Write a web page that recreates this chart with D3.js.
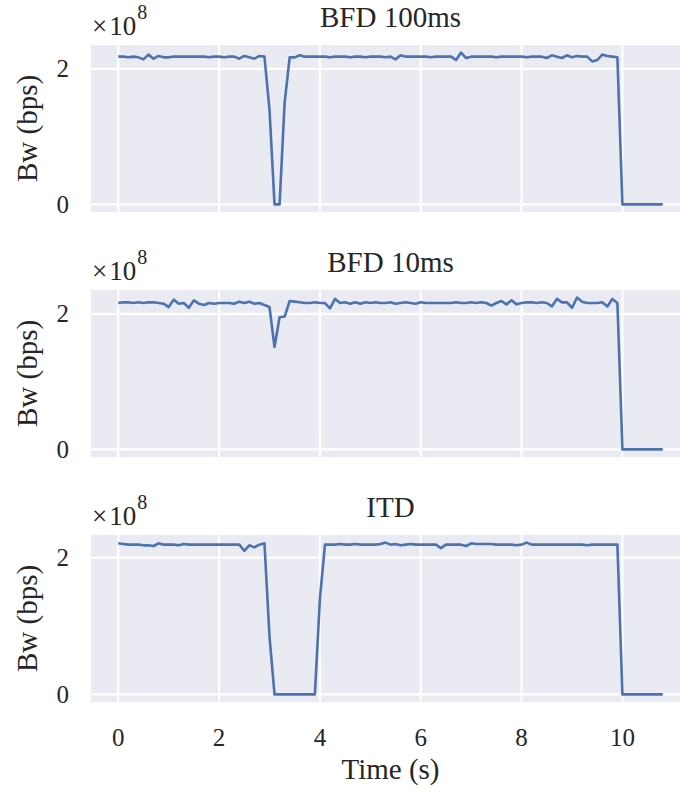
<!DOCTYPE html>
<html>
<head>
<meta charset="utf-8">
<script src="https://cdn.jsdelivr.net/npm/d3@7"></script>
<style>
  body { margin: 0; background: #fff; }
  svg { display: block; }
  text { font-family: "Liberation Serif", "DejaVu Serif", serif; fill: #262626; }
</style>
</head>
<body>
<div id="chart"></div>
<script>
// time samples (s)
var times = [0, 0.1, 0.2, 0.3, 0.4, 0.5, 0.6, 0.7, 0.8, 0.9,
  1, 1.1, 1.2, 1.3, 1.4, 1.5, 1.6, 1.7, 1.8, 1.9,
  2, 2.1, 2.2, 2.3, 2.4, 2.5, 2.6, 2.7, 2.8, 2.9,
  3, 3.1, 3.2, 3.3, 3.4, 3.5, 3.6, 3.7, 3.8, 3.9,
  4, 4.1, 4.2, 4.3, 4.4, 4.5, 4.6, 4.7, 4.8, 4.9,
  5, 5.1, 5.2, 5.3, 5.4, 5.5, 5.6, 5.7, 5.8, 5.9,
  6, 6.1, 6.2, 6.3, 6.4, 6.5, 6.6, 6.7, 6.8, 6.9,
  7, 7.1, 7.2, 7.3, 7.4, 7.5, 7.6, 7.7, 7.8, 7.9,
  8, 8.1, 8.2, 8.3, 8.4, 8.5, 8.6, 8.7, 8.8, 8.9,
  9, 9.1, 9.2, 9.3, 9.4, 9.5, 9.6, 9.7, 9.8, 9.9,
  10, 10.1, 10.2, 10.3, 10.4, 10.5, 10.6, 10.7, 10.8];

// bandwidth in units of 1e8 bps
var bfd100 = [2.18, 2.18, 2.17, 2.18, 2.17, 2.14, 2.21, 2.15, 2.19, 2.17,
  2.17, 2.18, 2.18, 2.18, 2.18, 2.18, 2.18, 2.18, 2.17, 2.18,
  2.18, 2.17, 2.18, 2.18, 2.15, 2.19, 2.17, 2.15, 2.19, 2.18,
  1.40, 0, 0, 1.50, 2.17, 2.17, 2.20, 2.18, 2.18, 2.18,
  2.18, 2.18, 2.17, 2.18, 2.18, 2.18, 2.17, 2.18, 2.18, 2.17,
  2.18, 2.18, 2.18, 2.17, 2.18, 2.14, 2.20, 2.18, 2.18, 2.18,
  2.18, 2.18, 2.17, 2.18, 2.18, 2.18, 2.18, 2.13, 2.24, 2.16,
  2.18, 2.18, 2.18, 2.18, 2.18, 2.17, 2.18, 2.18, 2.18, 2.18,
  2.18, 2.17, 2.18, 2.18, 2.18, 2.16, 2.20, 2.18, 2.16, 2.20,
  2.17, 2.19, 2.18, 2.18, 2.11, 2.13, 2.21, 2.19, 2.18, 2.17,
  0, 0, 0, 0, 0, 0, 0, 0, 0];

var bfd10 = [2.16, 2.17, 2.17, 2.16, 2.17, 2.16, 2.17, 2.17, 2.16, 2.15,
  2.10, 2.21, 2.15, 2.16, 2.09, 2.20, 2.15, 2.13, 2.16, 2.15,
  2.16, 2.16, 2.16, 2.15, 2.18, 2.16, 2.18, 2.15, 2.16, 2.13,
  2.10, 1.51, 1.95, 1.96, 2.19, 2.18, 2.17, 2.16, 2.16, 2.17,
  2.16, 2.16, 2.08, 2.22, 2.16, 2.17, 2.15, 2.17, 2.15, 2.17,
  2.16, 2.17, 2.16, 2.16, 2.17, 2.15, 2.16, 2.17, 2.16, 2.15,
  2.17, 2.16, 2.16, 2.16, 2.16, 2.16, 2.16, 2.17, 2.16, 2.16,
  2.17, 2.16, 2.17, 2.16, 2.12, 2.16, 2.19, 2.14, 2.20, 2.14,
  2.16, 2.17, 2.17, 2.16, 2.17, 2.16, 2.11, 2.22, 2.17, 2.17,
  2.09, 2.24, 2.18, 2.16, 2.16, 2.16, 2.17, 2.11, 2.22, 2.16,
  0, 0, 0, 0, 0, 0, 0, 0, 0];

var itd = [2.21, 2.20, 2.19, 2.19, 2.19, 2.18, 2.18, 2.17, 2.21, 2.19,
  2.19, 2.19, 2.18, 2.20, 2.19, 2.19, 2.19, 2.19, 2.19, 2.19,
  2.19, 2.19, 2.19, 2.19, 2.19, 2.10, 2.18, 2.15, 2.19, 2.21,
  0.85, 0, 0, 0, 0, 0, 0, 0, 0, 0,
  1.40, 2.19, 2.19, 2.19, 2.20, 2.19, 2.19, 2.20, 2.19, 2.19,
  2.19, 2.19, 2.20, 2.22, 2.19, 2.20, 2.18, 2.19, 2.20, 2.19,
  2.19, 2.19, 2.19, 2.19, 2.14, 2.19, 2.19, 2.19, 2.19, 2.17,
  2.21, 2.20, 2.20, 2.20, 2.20, 2.19, 2.19, 2.19, 2.19, 2.18,
  2.19, 2.22, 2.19, 2.19, 2.19, 2.19, 2.19, 2.19, 2.19, 2.19,
  2.19, 2.19, 2.19, 2.18, 2.19, 2.19, 2.19, 2.19, 2.19, 2.19,
  0, 0, 0, 0, 0, 0, 0, 0, 0];

var titles = ["BFD 100ms", "BFD 10ms", "ITD"];
var series = [bfd100, bfd10, itd];
var xTicks = [0, 2, 4, 6, 8, 10];
var yTicks = [0, 2];

// dimensions
var w = 680, h = 788,
    left = 91, right = 690,
    panel_h = 167,
    panel_tops = [45, 290, 535];

var svg = d3.select("#chart")
    .append("svg")
    .attr("width", w)
    .attr("height", h);

// matplotlib style 5% margins
var xExt = d3.extent(times),
    xPad = (xExt[1] - xExt[0]) * 0.05;
var xScale = d3.scaleLinear()
    .domain([xExt[0] - xPad, xExt[1] + xPad])
    .range([left, right]);

series.forEach(function(vals, k) {
    var top = panel_tops[k];
    var yExt = d3.extent(vals),
        yPad = (yExt[1] - yExt[0]) * 0.05;
    var yScale = d3.scaleLinear()
        .domain([yExt[0] - yPad, yExt[1] + yPad])
        .range([top + panel_h, top]);

    var g = svg.append("g");

    // background
    g.append("rect")
        .attr("x", left)
        .attr("y", top)
        .attr("width", right - left)
        .attr("height", panel_h)
        .attr("fill", "#eaeaf2");

    // grid
    g.selectAll(".vgrid")
        .data(xTicks)
        .enter()
        .append("line")
        .attr("x1", function(d){ return xScale(d); })
        .attr("x2", function(d){ return xScale(d); })
        .attr("y1", top)
        .attr("y2", top + panel_h)
        .attr("stroke", "#fff")
        .attr("stroke-width", 2.2);
    g.selectAll(".hgrid")
        .data(yTicks)
        .enter()
        .append("line")
        .attr("x1", left)
        .attr("x2", right)
        .attr("y1", function(d){ return yScale(d); })
        .attr("y2", function(d){ return yScale(d); })
        .attr("stroke", "#fff")
        .attr("stroke-width", 2.2);

    // y tick labels
    g.selectAll(".ylab")
        .data(yTicks)
        .enter()
        .append("text")
        .attr("x", 69)
        .attr("y", function(d){ return yScale(d) + 8.5; })
        .attr("text-anchor", "end")
        .style("font-size", "25px")
        .text(function(d){ return d; });

    // bandwidth line
    var line = d3.line()
        .x(function(d, i){ return xScale(times[i]); })
        .y(function(d){ return yScale(d); });
    g.append("path")
        .datum(vals)
        .attr("d", line)
        .attr("fill", "none")
        .attr("stroke", "#4c72b0")
        .attr("stroke-width", 2.6)
        .attr("stroke-linejoin", "round");

    // title
    g.append("text")
        .attr("x", (left + right) / 2)
        .attr("y", top - 18)
        .attr("text-anchor", "middle")
        .style("font-size", "29px")
        .text(titles[k]);

    // offset text x10^8
    var off = g.append("text")
        .attr("x", 92)
        .attr("y", top - 10)
        .style("font-size", "27px");
    off.append("tspan").text("\u00d7");
    off.append("tspan").attr("dx", 2).text("10");
    off.append("tspan")
        .attr("dx", 1)
        .attr("dy", -16)
        .style("font-size", "20px")
        .text("8");

    // y label
    g.append("text")
        .attr("transform", "translate(37," + (top + panel_h / 2) + ") rotate(-90)")
        .attr("text-anchor", "middle")
        .style("font-size", "29px")
        .text("Bw (bps)");
});

// x tick labels on bottom panel
svg.selectAll(".xlab")
    .data(xTicks)
    .enter()
    .append("text")
    .attr("x", function(d){ return xScale(d); })
    .attr("y", 746)
    .attr("text-anchor", "middle")
    .style("font-size", "25px")
    .text(function(d){ return d; });

svg.append("text")
    .attr("x", (left + right) / 2)
    .attr("y", 779)
    .attr("text-anchor", "middle")
    .style("font-size", "29px")
    .text("Time (s)");
</script>
</body>
</html>
